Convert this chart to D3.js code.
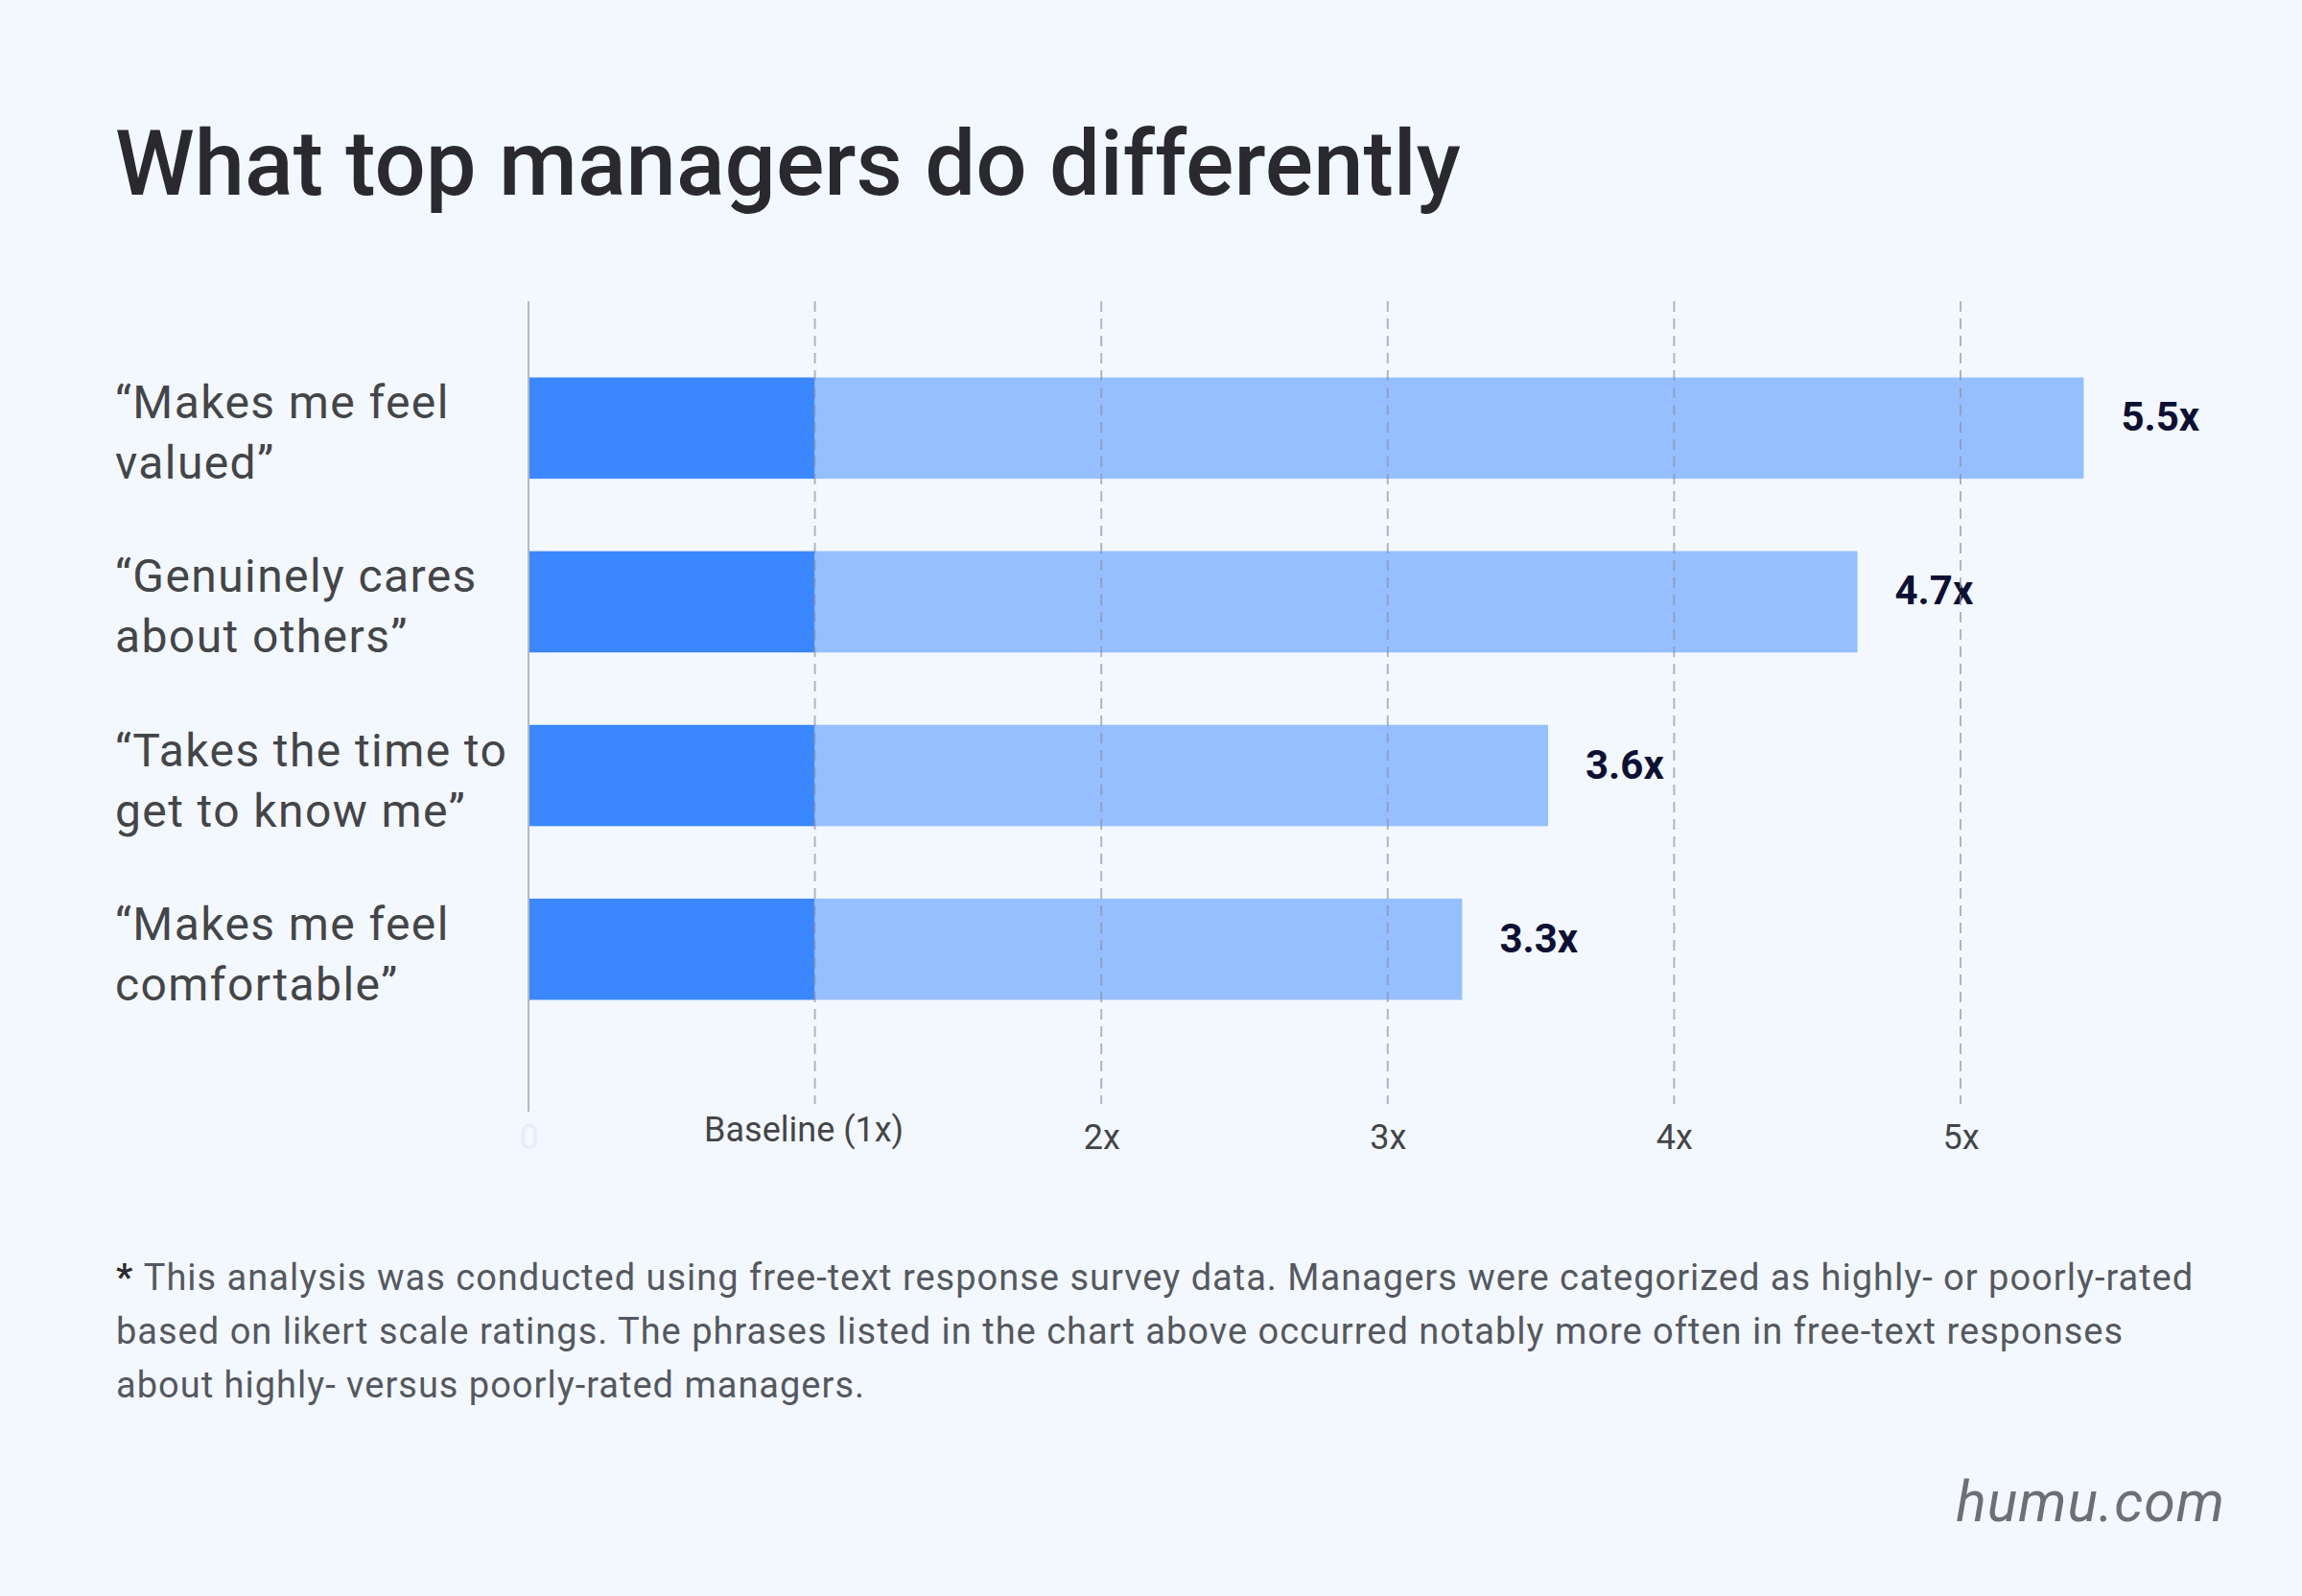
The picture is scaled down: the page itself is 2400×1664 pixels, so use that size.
<!DOCTYPE html>
<html>
<head>
<meta charset="utf-8">
<script src="https://cdn.jsdelivr.net/npm/d3@7"></script>
<style>
  html, body { margin: 0; padding: 0; background: #f3f8ff; }
  svg { display: block; font-family: Roboto, "Noto Sans", sans-serif; }
</style>
</head>
<body>
<div id="chart"></div>
<script>
// chart data
const categories = [
  ["\u201cMakes me feel", "valued\u201d"],
  ["\u201cGenuinely cares", "about others\u201d"],
  ["\u201cTakes the time to", "get to know me\u201d"],
  ["\u201cMakes me feel", "comfortable\u201d"]
]
const barValues = [5.43, 4.64, 3.56, 3.26]
const valueLabels = ["5.5x", "4.7x", "3.6x", "3.3x"]
const baselineValue = 1
const tickValues = [0, 1, 2, 3, 4, 5]
const tickLabels = ["0", "Baseline (1x)", "2x", "3x", "4x", "5x"]
const footnoteLines = [
  "This analysis was conducted using free-text response survey data. Managers were categorized as highly- or poorly-rated",
  "based on likert scale ratings. The phrases listed in the chart above occurred notably more often in free-text responses",
  "about highly- versus poorly-rated managers."
]

const width = 2400
const height = 1664
const darkBlue = "#3b87ff"
const lightBlue = "#96bfff"
const gridGray = "#b4b8c3"

const svg = d3
  .select("#chart")
  .append("svg")
  .attr("width", width)
  .attr("height", height)

svg.append("rect")
  .attr("width", width)
  .attr("height", height)
  .attr("fill", "#f3f8ff")

// title
svg.append("text")
  .attr("x", 120)
  .attr("y", 203)
  .attr("font-size", 94)
  .attr("font-weight", 500)
  .attr("fill", "#2a2a2e")
  .text("What top managers do differently")

const frameTop = 314
const frameBottom = 1159

const x = d3
  .scaleLinear()
  .domain([0, 5])
  .range([551, 2044])

const y = d3
  .scaleBand()
  .domain(d3.range(categories.length))
  .range([318, 1118])
  .padding(0.417)

// bars: dark up to the baseline, light beyond it
const rows = svg.append("g")
  .selectAll("g")
  .data(barValues)
  .enter()
  .append("g")

rows.append("rect")
  .attr("x", x(0))
  .attr("y", (d, i) => y(i))
  .attr("width", x(baselineValue) - x(0))
  .attr("height", y.bandwidth())
  .attr("fill", darkBlue)

rows.append("rect")
  .attr("x", x(baselineValue))
  .attr("y", (d, i) => y(i))
  .attr("width", d => x(d) - x(baselineValue))
  .attr("height", y.bandwidth())
  .attr("fill", lightBlue)

// dashed grid lines on top of the bars
svg.append("g")
  .selectAll("line")
  .data(tickValues.filter(t => t > 0))
  .enter()
  .append("line")
  .attr("x1", d => x(d))
  .attr("x2", d => x(d))
  .attr("y1", frameTop)
  .attr("y2", frameBottom - 8)
  .attr("stroke", "#8a90a2")
  .attr("stroke-opacity", 0.65)
  .attr("stroke-width", 2)
  .attr("stroke-dasharray", "11,7")

// solid left axis line
svg.append("line")
  .attr("x1", x(0))
  .attr("x2", x(0))
  .attr("y1", frameTop)
  .attr("y2", frameBottom)
  .attr("stroke", gridGray)
  .attr("stroke-width", 2)

// value labels
rows.append("text")
  .attr("x", d => x(d) + 39)
  .attr("y", (d, i) => y(i) + y.bandwidth() / 2 + 3)
  .attr("font-size", 42)
  .attr("font-weight", 700)
  .attr("fill", "#0e1033")
  .text((d, i) => valueLabels[i])

// category labels
const labels = svg.append("g")
  .selectAll("text")
  .data(categories)
  .enter()
  .append("text")
  .attr("x", 120)
  .attr("y", (d, i) => y(i) + y.bandwidth() / 2)
  .attr("font-size", 48)
  .attr("letter-spacing", 1.4)
  .attr("fill", "#444548")

labels.selectAll("tspan")
  .data(d => d)
  .enter()
  .append("tspan")
  .attr("x", 120)
  .attr("dy", (d, i) => i === 0 ? -10 : 63)
  .text(d => d)

// bottom axis tick labels
const xAxis = svg.append("g")
  .attr("transform", `translate(0,${frameBottom})`)
  .call(
    d3.axisBottom(x)
      .tickValues(tickValues)
      .tickSize(0)
      .tickFormat((d, i) => tickLabels[i])
  )

xAxis.select(".domain").remove()
xAxis.selectAll("text")
  .attr("x", (d, i) => i === 1 ? -12 : 0)
  .attr("y", (d, i) => i === 1 ? 31 : 39)
  .attr("dy", 0)
  .attr("font-family", "Roboto, sans-serif")
  .attr("font-size", 36)
  .attr("fill", (d, i) => i === 0 ? "#e6edf8" : "#444548")

// footnote
const footnote = svg.append("g")
  .selectAll("text")
  .data(footnoteLines)
  .enter()
  .append("text")
  .attr("x", 121)
  .attr("y", (d, i) => 1345 + i * 56)
  .attr("font-size", 38)
  .attr("letter-spacing", 1)
  .attr("fill", "#555860")

footnote.filter((d, i) => i === 0)
  .append("tspan")
  .attr("font-weight", 700)
  .attr("fill", "#2a2a2e")
  .text("* ")

footnote.append("tspan")
  .text(d => d)

// source
svg.append("text")
  .attr("x", 2320)
  .attr("y", 1586)
  .attr("text-anchor", "end")
  .attr("font-size", 59)
  .attr("font-style", "italic")
  .attr("fill", "#6e6e78")
  .attr("letter-spacing", 1)
  .text("humu.com")
</script>
</body>
</html>
